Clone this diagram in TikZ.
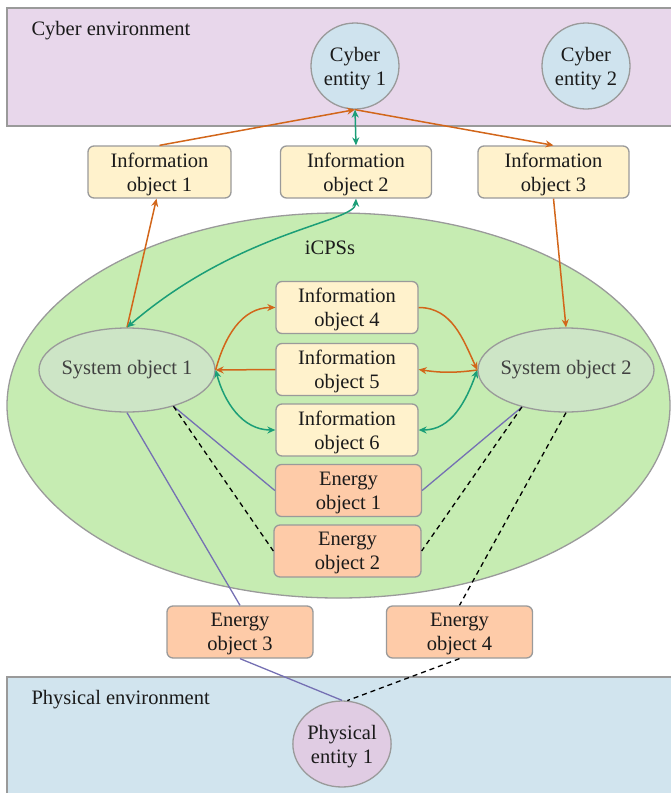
\documentclass[tikz,border=0pt]{standalone}
\usepackage{fontspec}
\setmainfont{Liberation Serif}
\usetikzlibrary{shapes.geometric,arrows.meta}
\definecolor{bordergray}{HTML}{9A9A9A}
\definecolor{cyberenv}{HTML}{E8D7EB}
\definecolor{entfill}{HTML}{CFE3EE}
\definecolor{infofill}{HTML}{FFF2CC}
\definecolor{energyfill}{HTML}{FECBA8}
\definecolor{icpsfill}{HTML}{C6ECB2}
\definecolor{sysfill}{HTML}{CDE5C6}
\definecolor{physenv}{HTML}{D1E4EE}
\definecolor{physent}{HTML}{E0CCE3}
\definecolor{orangec}{HTML}{D2661A}
\definecolor{greenc}{HTML}{1B9E77}
\definecolor{bluec}{HTML}{7570B3}
\definecolor{txt}{HTML}{1A1A1A}
\begin{document}
\begin{tikzpicture}[x=1pt,y=-1pt,
  every node/.style={text=txt, font=\fontsize{20.5}{24}\selectfont},
  box/.style={draw=bordergray, line width=1.3pt, rounded corners=6pt, minimum height=52pt, align=center, inner sep=0pt, text depth=0pt},
  info/.style={box, fill=infofill},
  energy/.style={box, fill=energyfill},
  ent/.style={ellipse, draw=bordergray, line width=1.3pt, minimum width=88pt, minimum height=86pt, inner sep=0pt, align=center, text depth=0pt},
  sysobj/.style={ellipse, draw=bordergray, line width=1.3pt, fill=sysfill, minimum width=176pt, minimum height=84pt, inner ysep=0pt, inner xsep=-8pt, text=black!75},
  env/.style={draw=bordergray, line width=1.3pt},
  oarr/.style={draw=orangec, line width=1.5pt, -{Stealth[length=8pt,width=7pt]}},
  garr/.style={draw=greenc, line width=1.5pt, {Stealth[length=8pt,width=7pt]}-{Stealth[length=8pt,width=7pt]}},
  bline/.style={draw=bluec, line width=1.3pt},
  dline/.style={draw=black, line width=1.3pt, dash pattern=on 5pt off 4pt}
]
\useasboundingbox (0,0) rectangle (671,793);
\clip (0,0) rectangle (671,793);
% environments
\draw[env, fill=cyberenv] (7,8) rectangle (690,126);
\node[anchor=west] (cyberlabel) at (28,31) {Cyber environment};
\draw[env, fill=physenv] (7,677) rectangle (690,800);
\node[anchor=west] (physlabel) at (28,700) {Physical environment};
\node[ellipse, draw=bordergray, line width=1.3pt, fill=icpsfill, minimum width=663pt, minimum height=385pt] (icps) at (338.5,405.5) {};
\node (icpslabel) at (330,248) {iCPSs};
% entities
\node[ent, fill=entfill] (c1) at (355,66) {Cyber\\entity 1};
\node[ent, fill=entfill] (c2) at (586,66) {Cyber\\entity 2};
\node[ent, fill=physent] (p1) at (342,744) {Physical\\entity 1};
% information objects
\node[info, minimum width=143pt] (i1) at (159.5,172) {Information\\object 1};
\node[info, minimum width=151pt] (i2) at (356,172) {Information\\object 2};
\node[info, minimum width=151pt] (i3) at (553.5,172) {Information\\object 3};
\node[info, minimum width=142pt] (i4) at (347,307.5) {Information\\object 4};
\node[info, minimum width=142pt] (i5) at (347,369.5) {Information\\object 5};
\node[info, minimum width=142pt] (i6) at (347,430) {Information\\object 6};
% energy objects
\node[energy, minimum width=146pt] (e1) at (348.5,490.5) {Energy\\object 1};
\node[energy, minimum width=147pt] (e2) at (347.5,551) {Energy\\object 2};
\node[energy, minimum width=146pt] (e3) at (240,632) {Energy\\object 3};
\node[energy, minimum width=146pt] (e4) at (459.5,632) {Energy\\object 4};
% system objects
\node[sysobj] (s1) at (127,370) {System object 1};
\node[sysobj] (s2) at (566,370) {System object 2};
% connectors
\draw[oarr] (i1.north) -- (c1.south);
\draw[oarr] (c1.south) -- (i3.north);
\draw[garr] (c1.south) -- (i2.north);
\draw[oarr] (s1.north) -- ([xshift=-3pt]i1.south);
\draw[garr] (i2.south) .. controls +(-1,24) and (240,230) .. (s1.north);
\draw[oarr] (i3.south) -- (s2.north);
\draw[oarr] (s1.east) to[out=75,in=180] (i4.west);
\draw[oarr] (i5.west) -- (s1.east);
\draw[garr] (s1.east) to[out=-75,in=180] (i6.west);
\draw[oarr] (i4.east) to[out=0,in=115] (s2.west);
\draw[oarr] (s2.west) to[bend left=8] (i5.east);
\draw[garr] (i6.east) to[out=0,in=-110] (s2.west);
\draw[bline] (s1.-38) -- (e1.west);
\draw[bline] (s2.-140) -- (e1.east);
\draw[bline] (s1.south) -- (e3.north);
\draw[bline] (e3.south) -- (p1.north);
\draw[dline] (s1.-38) -- (e2.west);
\draw[dline] (s2.-140) -- (e2.east);
\draw[dline] (s2.south) -- (e4.north);
\draw[dline] (e4.south) -- (p1.83);
\end{tikzpicture}
\end{document}
